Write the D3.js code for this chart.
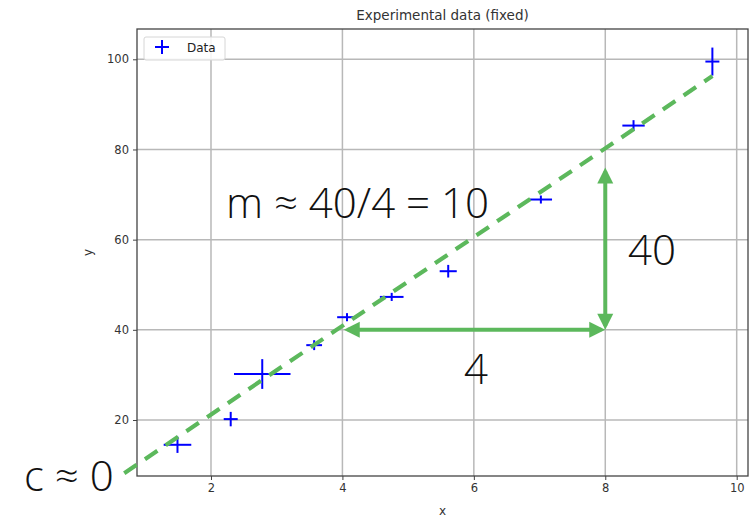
<!DOCTYPE html>
<html>
<head>
<meta charset="utf-8">
<script src="https://cdn.jsdelivr.net/npm/d3@7"></script>
<style>
  body { margin: 0; background: #fff; }
  svg { display: block; }
</style>
</head>
<body>
<svg id="chart" width="754" height="519"></svg>
<script>
// measured points with their error bars
var xs   = [1.49, 2.30, 2.78, 3.57, 4.07, 4.75, 5.61, 7.02, 8.43, 9.63];
var ys   = [14.5, 20.2, 30.2, 36.6, 42.8, 47.3, 53.0, 68.9, 85.3, 99.5];
var xErr = [0.21, 0.10, 0.43, 0.12, 0.15, 0.18, 0.13, 0.17, 0.17, 0.08];
var yErr = [1.8, 1.6, 3.3, 1.1, 0.9, 0.9, 1.4, 0.8, 1.2, 3.1];

var xTicks = [2, 4, 6, 8, 10];
var yTicks = [20, 40, 60, 80, 100];

// hand-drawn fit line and the rise / run arrows
var fitLine = [[0.68, 8.2], [9.63, 96.3]];
var runArrow = [[8, 40], [4.02, 40]];
var riseArrow = [[8, 40], [8, 76]];

var green = "#5cb85c";
var blue = "#0000ff";

var svg = d3.select("#chart");
var box = {left: 137, right: 748, top: 29, bottom: 476};

var x = d3.scaleLinear().domain([0.874, 10.172]).range([box.left, box.right]);
var y = d3.scaleLinear().domain([7.58, 106.72]).range([box.bottom, box.top]);

// grid
var grid = svg.append("g");
grid.selectAll("line.gx")
    .data(xTicks)
    .enter().append("line")
    .attr("x1", function(d){ return x(d); })
    .attr("x2", function(d){ return x(d); })
    .attr("y1", box.top)
    .attr("y2", box.bottom)
    .attr("stroke", "#b8b8b8")
    .attr("stroke-width", 1.5);
grid.selectAll("line.gy")
    .data(yTicks)
    .enter().append("line")
    .attr("x1", box.left)
    .attr("x2", box.right)
    .attr("y1", function(d){ return y(d); })
    .attr("y2", function(d){ return y(d); })
    .attr("stroke", "#b8b8b8")
    .attr("stroke-width", 1.5);

// axes
var xAxis = svg.append("g")
    .attr("transform", "translate(0," + box.bottom + ")")
    .call(d3.axisBottom(x).tickValues(xTicks).tickSize(4).tickPadding(4).tickFormat(d3.format("d")));
var yAxis = svg.append("g")
    .attr("transform", "translate(" + box.left + ",0)")
    .call(d3.axisLeft(y).tickValues(yTicks).tickSize(4).tickPadding(4).tickFormat(d3.format("d")));
[xAxis, yAxis].forEach(function(a){
    a.select(".domain").remove();
    a.selectAll("line").attr("stroke", "#444");
    a.selectAll("text")
        .attr("fill", "#333")
        .style("font-family", "DejaVu Sans")
        .style("font-size", "11.5px");
});

svg.append("rect")
    .attr("x", box.left)
    .attr("y", box.top)
    .attr("width", box.right - box.left)
    .attr("height", box.bottom - box.top)
    .attr("fill", "none")
    .attr("stroke", "#444")
    .attr("stroke-width", 1.3);

// titles
svg.append("text")
    .attr("x", (box.left + box.right) / 2)
    .attr("y", 20)
    .attr("text-anchor", "middle")
    .attr("fill", "#333")
    .style("font-family", "DejaVu Sans")
    .style("font-size", "13.5px")
    .text("Experimental data (fixed)");
svg.append("text")
    .attr("x", (box.left + box.right) / 2)
    .attr("y", 515)
    .attr("text-anchor", "middle")
    .attr("fill", "#333")
    .style("font-family", "DejaVu Sans")
    .style("font-size", "12px")
    .text("x");
svg.append("text")
    .attr("transform", "translate(92," + ((box.top + box.bottom) / 2) + ") rotate(-90)")
    .attr("text-anchor", "middle")
    .attr("fill", "#333")
    .style("font-family", "DejaVu Sans")
    .style("font-size", "12px")
    .text("y");

// error bars, '+' marker underneath
var pts = xs.map(function(v, i){
    return {x: v, y: ys[i], xe: xErr[i], ye: yErr[i]};
});
var marks = svg.append("g").attr("stroke", blue).attr("stroke-width", 2);
var mkx = 7, mky = 4;
pts.forEach(function(p){
    var cx = x(p.x), cy = y(p.y);
    var hx = Math.max(mkx, x(p.x + p.xe) - cx);
    var hy = Math.max(mky, cy - y(p.y + p.ye));
    marks.append("line").attr("x1", cx - hx).attr("x2", cx + hx).attr("y1", cy).attr("y2", cy);
    marks.append("line").attr("x1", cx).attr("x2", cx).attr("y1", cy - hy).attr("y2", cy + hy);
});

// legend
var lg = svg.append("g");
lg.append("rect")
    .attr("x", 144).attr("y", 37)
    .attr("width", 81).attr("height", 23)
    .attr("rx", 2)
    .attr("fill", "#fff")
    .attr("fill-opacity", 0.85)
    .attr("stroke", "#d6d6d6");
lg.append("line").attr("x1", 155).attr("x2", 169).attr("y1", 47).attr("y2", 47)
    .attr("stroke", blue).attr("stroke-width", 2);
lg.append("line").attr("x1", 162).attr("x2", 162).attr("y1", 40).attr("y2", 54)
    .attr("stroke", blue).attr("stroke-width", 2);
lg.append("text")
    .attr("x", 187).attr("y", 52)
    .attr("fill", "#222")
    .style("font-family", "DejaVu Sans")
    .style("font-size", "12px")
    .text("Data");

// dashed fit line
svg.append("path")
    .attr("d", d3.line().x(function(d){ return x(d[0]); }).y(function(d){ return y(d[1]); })(fitLine))
    .attr("fill", "none")
    .attr("stroke", green)
    .attr("stroke-width", 4.2)
    .attr("stroke-dasharray", "15,10");

// arrows (double-headed)
function arrow(seg){
    var x0 = x(seg[0][0]), y0 = y(seg[0][1]);
    var x1 = x(seg[1][0]), y1 = y(seg[1][1]);
    var ang = Math.atan2(y1 - y0, x1 - x0);
    var len = 16, half = 8;
    var g = svg.append("g");
    g.append("line")
        .attr("x1", x0 + Math.cos(ang) * 4).attr("y1", y0 + Math.sin(ang) * 4)
        .attr("x2", x1 - Math.cos(ang) * 4).attr("y2", y1 - Math.sin(ang) * 4)
        .attr("stroke", green).attr("stroke-width", 4);
    [[x0, y0, ang + Math.PI], [x1, y1, ang]].forEach(function(h){
        var tx = h[0], ty = h[1], a = h[2];
        var bx = tx - Math.cos(a) * len, by = ty - Math.sin(a) * len;
        var pts = [
            [tx, ty],
            [bx - Math.sin(a) * half, by + Math.cos(a) * half],
            [bx + Math.sin(a) * half, by - Math.cos(a) * half]
        ];
        g.append("path").attr("d", "M" + pts.join("L") + "Z").attr("fill", green);
    });
}
arrow(runArrow);
arrow(riseArrow);

// annotations
var notes = [
    {t: "m \u2248 40/4 = 10", px: 226, py: 218},
    {t: "40", px: 628, py: 265},
    {t: "4", px: 464, py: 384},
    {t: "c \u2248 0", px: 24, py: 491}
];
svg.selectAll("text.note")
    .data(notes)
    .enter().append("text")
    .attr("class", "note")
    .attr("x", function(d){ return d.px; })
    .attr("y", function(d){ return d.py; })
    .attr("fill", "#111")
    .style("font-family", "'Open Sans Light', 'Open Sans'")
    .style("font-weight", 300)
    .style("font-size", "42px")
    .text(function(d){ return d.t; });
</script>
</body>
</html>
